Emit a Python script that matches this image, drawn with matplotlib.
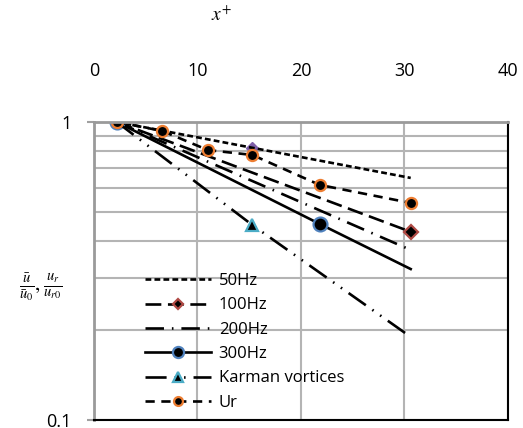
import numpy as np
import matplotlib.pyplot as plt
from matplotlib.ticker import FixedLocator, NullFormatter

plt.rcParams["font.family"] = ["Open Sans", "DejaVu Sans"]
plt.rcParams["mathtext.fontset"] = "stix"

# Data (x+ vs normalised velocity)
x_50 = [2.2, 30.6]
y_50 = [1.0, 0.649]
x_50_mark = [15.3]
y_50_mark = [0.82]
x_100 = [2.2, 30.6]
y_100 = [1.0, 0.428]
x_200 = [2.2, 30.6]
y_200 = [1.0, 0.372]
x_300 = [2.2, 21.8, 30.6]
y_300 = [1.0, 0.455, 0.321]
x_karman = [2.2, 15.3, 30.6]
y_karman = [1.0, 0.451, 0.190]
x_ur = [2.2, 6.6, 11.0, 15.3, 21.8, 30.6]
y_ur = [1.0, 0.933, 0.805, 0.775, 0.615, 0.535]

x_ticks = [0, 10, 20, 30, 40]
y_labels = {0.1: "0.1", 1: "1"}

fig = plt.figure(figsize=(5.23, 4.28), dpi=100)
ax = fig.add_axes([0.1797, 0.0187, 0.7916, 0.6963])

lw = 1.9
ax.plot(x_50_mark, y_50_mark, ls="none", marker="D", ms=6,
        mfc="#7F5FA8", mec="#7F5FA8")
ax.plot(x_50, y_50, color="black", lw=lw, dashes=(2.2, 1.2), label="50Hz")
ax.plot(x_100, y_100, color="black", lw=lw, dashes=(6, 2.5), label="100Hz",
        marker="D", markevery=[1], ms=7, mfc="black", mec="#B04A45", mew=1.6)
ax.plot(x_200, y_200, color="black", lw=lw, dashes=(7, 3, 0.6, 3), label="200Hz")
ax.plot(x_300, y_300, color="black", lw=lw, label="300Hz",
        marker="o", markevery=[0, 1], ms=10, mfc="black", mec="#4F81BD", mew=1.6)
ax.plot(x_karman, y_karman, color="black", lw=lw,
        dashes=(8, 3, 0.6, 3, 0.6, 3), label="Karman vortices",
        marker="^", markevery=[1], ms=9, mfc="black", mec="#4BACC6", mew=1.6)
ax.plot(x_ur, y_ur, color="black", lw=lw, dashes=(3.5, 2.5), label="Ur",
        marker="o", ms=8, mfc="black", mec="#ED7D31", mew=1.6)

ax.set_yscale("log")
ax.set_xlim(0, 40)
ax.set_ylim(0.1, 1)

ax.xaxis.tick_top()
ax.set_xticks(x_ticks)
ax.tick_params(axis="x", length=0, pad=30, labelsize=13)
ax.set_yticks(list(y_labels.keys()))
ax.set_yticklabels(list(y_labels.values()))
ax.yaxis.set_minor_locator(FixedLocator(np.arange(0.2, 1.0, 0.1)))
ax.yaxis.set_minor_formatter(NullFormatter())
ax.tick_params(axis="y", which="major", length=5, width=1.5,
               color="#A0A0A0", pad=11, labelsize=13)
ax.tick_params(axis="y", which="minor", length=0)

ax.grid(True, which="both", color="#B4B4B4", lw=1.5)
ax.set_axisbelow(True)

ax.spines["left"].set_color("#9A9A9A")
ax.spines["left"].set_linewidth(2)
ax.spines["top"].set_color("#9A9A9A")
ax.spines["top"].set_linewidth(2)
ax.spines["right"].set_color("black")
ax.spines["right"].set_linewidth(1.5)
ax.spines["bottom"].set_color("black")
ax.spines["bottom"].set_linewidth(1.5)

fig.text(0.424, 0.965, r"$x^{+}$", fontsize=14, ha="center", va="center")
fig.text(0.078, 0.33, r"$\frac{\bar{u}}{\bar{u}_0},\frac{u_r}{u_{r0}}$",
         fontsize=15, ha="center", va="center")

ax.legend(loc="lower left", bbox_to_anchor=(0.1, 0.0), frameon=False,
          fontsize=12, handlelength=4.0, handletextpad=0.45,
          labelspacing=0.5, borderaxespad=0.15, numpoints=1,
          markerscale=0.8)

fig.savefig("out.png", dpi=100)
